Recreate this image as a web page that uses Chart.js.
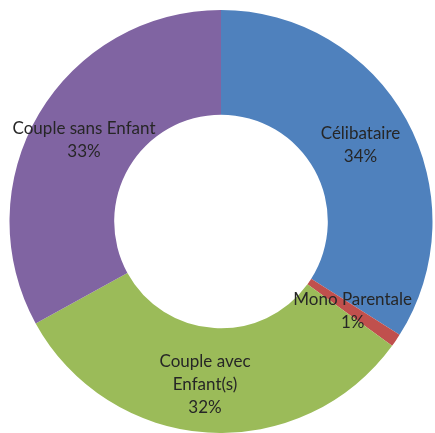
<!DOCTYPE html>
<html>
<head>
<meta charset="utf-8">
<script src="https://cdn.jsdelivr.net/npm/chart.js@4.4.0/dist/chart.umd.min.js"></script>
<style>
  html, body { margin: 0; padding: 0; background: #fff; }
  #wrap { width: 435px; height: 433px; }
</style>
</head>
<body>
<div id="wrap"><canvas id="myDoughnut" width="435" height="433"></canvas></div>
<script>
var categories = ["Célibataire", "Mono Parentale", "Couple avec Enfant(s)", "Couple sans Enfant"];
var labelLines = [["Célibataire"], ["Mono Parentale"], ["Couple avec", "Enfant(s)"], ["Couple sans Enfant"]];
var shares = [34, 1, 32, 33];
var colors = ["#4F81BD", "#C0504D", "#9BBB59", "#8064A2"];

// draws "name / xx%" in the middle of each ring segment, like Excel
var sliceLabels = {
  id: 'sliceLabels',
  afterDatasetsDraw: function(chart) {
    var c = chart.ctx;
    var meta = chart.getDatasetMeta(0);
    var total = shares.reduce((a, b) => a + b, 0);
    c.save();
    c.font = '17px Lato, "Open Sans", sans-serif';
    c.fillStyle = '#262626';
    c.textAlign = 'center';
    c.textBaseline = 'middle';
    meta.data.forEach(function(arc, i) {
      var pos = arc.tooltipPosition();
      var x = pos.x, y = pos.y;
      if (i === 2) { x -= 6; y += 4; } // excel nudges this one a bit
      var lines = labelLines[i].concat([Math.round(shares[i] / total * 100) + '%']);
      var lh = 23;
      var y0 = y - (lines.length - 1) * lh / 2;
      lines.forEach(function(t, k) {
        c.fillText(t, x, y0 + k * lh);
      });
    });
    c.restore();
  }
};

var ctx = document.getElementById("myDoughnut");
var myChart = new Chart(ctx, {
  type: 'doughnut',
  data: {
    labels: categories,
    datasets: [{
      data: shares,
      backgroundColor: colors,
      borderWidth: 0
    }]
  },
  options: {
    responsive: false,
    animation: false,
    cutout: '50.5%',
    layout: {
      padding: { top: 10, bottom: 0, left: 9, right: 2 }
    },
    plugins: {
      legend: { display: false },
      tooltip: { enabled: false }
    }
  },
  plugins: [sliceLabels]
});
</script>
</body>
</html>
